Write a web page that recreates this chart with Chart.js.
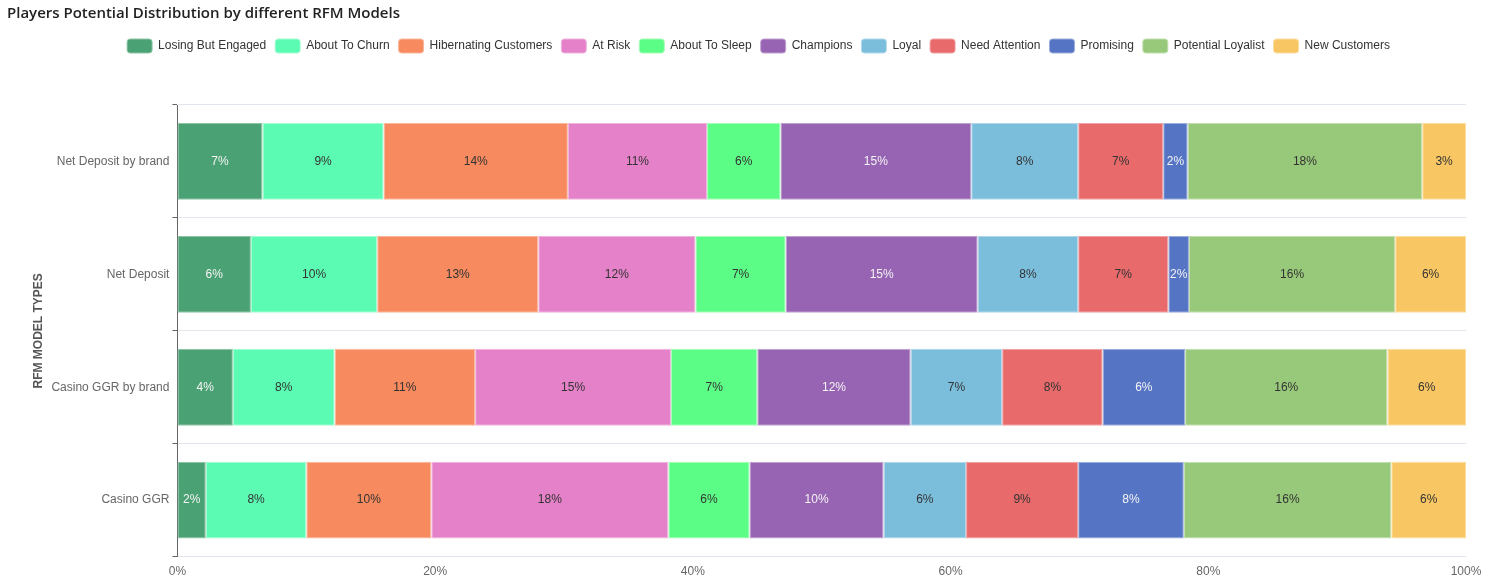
<!DOCTYPE html>
<html>
<head>
<meta charset="utf-8">
<script src="https://cdn.jsdelivr.net/npm/chart.js@4.4.1/dist/chart.umd.min.js"></script>
<style>
  html, body { margin: 0; padding: 0; background: #fff; }
  #wrap { width: 1488px; height: 582px; position: relative; }
</style>
</head>
<body>
<div id="wrap"><canvas id="rfmChart"></canvas></div>
<script>
const models = ["Net Deposit by brand", "Net Deposit", "Casino GGR by brand", "Casino GGR"];

const segments = [
  "Losing But Engaged", "About To Churn", "Hibernating Customers", "At Risk",
  "About To Sleep", "Champions", "Loyal", "Need Attention", "Promising",
  "Potential Loyalist", "New Customers"
];

// share of players (%) per model, one array per segment, in model order
const losingButEngaged = [6.6, 5.7, 4.3, 2.2];
const aboutToChurn = [9.4, 9.8, 7.9, 7.8];
const hibernating = [14.3, 12.5, 10.9, 9.7];
const atRisk = [10.8, 12.2, 15.2, 18.4];
const aboutToSleep = [5.7, 7.0, 6.7, 6.3];
const champions = [14.8, 14.9, 11.9, 10.4];
const loyal = [8.3, 7.8, 7.1, 6.4];
const needAttention = [6.6, 7.0, 7.8, 8.7];
const promising = [1.9, 1.6, 6.4, 8.2];
const potentialLoyalist = [18.2, 16.0, 15.7, 16.1];
const newCustomers = [3.4, 5.5, 6.1, 5.8];

const xTicks = [0, 20, 40, 60, 80, 100];

const seriesValues = [
  losingButEngaged, aboutToChurn, hibernating, atRisk, aboutToSleep,
  champions, loyal, needAttention, promising, potentialLoyalist, newCustomers
];

const colors = [
  "#4aa173", "#5cfbb3", "#f78a5e", "#e581c8", "#5cfd86",
  "#9763b3", "#7bbedc", "#e86a6b", "#5674c4", "#98c97a", "#f8c764"
];
const borders = [
  "#8fc4a6", "#a6fcd3", "#fab79c", "#efb3de", "#a6fdb6",
  "#bea1d0", "#b0d8ea", "#f0a3a4", "#9aaddb", "#c1dfae", "#fbdd9f"
];
const whiteText = ["Losing But Engaged", "Champions", "Promising"];

// simple inline value labels, centred in each segment
const segmentLabels = {
  id: "segmentLabels",
  afterDatasetsDraw(chart) {
    const ctx = chart.ctx;
    ctx.save();
    ctx.font = "12px 'Liberation Sans', Arial, sans-serif";
    ctx.textAlign = "center";
    ctx.textBaseline = "middle";
    chart.data.datasets.forEach((ds, i) => {
      const meta = chart.getDatasetMeta(i);
      if (meta.hidden) return;
      ctx.fillStyle = whiteText.includes(ds.label) ? "#f4f4f4" : "#333";
      meta.data.forEach((bar, j) => {
        const { x, base, y } = bar.getProps(["x", "base", "y"], true);
        ctx.fillText(Math.round(ds.data[j]) + "%", (x + base) / 2, y);
      });
    });
    ctx.restore();
  }
};

// extra room under the legend, title pushed to the far left, legend nudged right
const headerTweaks = {
  id: "headerTweaks",
  beforeInit(chart) {
    const legend = chart.legend;
    const fit = legend.fit;
    legend.fit = function () {
      fit.call(this);
      this.height += 42;
    };
  },
  afterLayout(chart) {
    chart.titleBlock.left = 7;
    chart.legend.left += 10;
    chart.legend.right += 10;
  }
};

function buildDatasets() {
  return segments.map((name, i) => ({
    label: name,
    data: seriesValues[i],
    backgroundColor: colors[i],
    borderColor: borders[i],
    borderWidth: 1,
    borderSkipped: false,
    barPercentage: 0.85,
    categoryPercentage: 0.8
  }));
}

function renderChart() {
  const ctx = document.getElementById("rfmChart").getContext("2d");
  Chart.defaults.font.family = "'Liberation Sans', Arial, sans-serif";

  new Chart(ctx, {
    type: "bar",
    data: { labels: models, datasets: buildDatasets() },
    plugins: [segmentLabels, headerTweaks],
    options: {
      indexAxis: "y",
      responsive: true,
      maintainAspectRatio: false,
      animation: false,
      layout: { padding: { left: 31, right: 22, top: 5, bottom: 3 } },
      plugins: {
        title: {
          display: true,
          text: "Players Potential Distribution by different RFM Models",
          align: "start",
          color: "#222",
          font: { family: "'Open Sans', sans-serif", size: 15, weight: "600" },
          padding: { top: 0, bottom: 7 },
          fullSize: true
        },
        legend: {
          display: true,
          labels: {
            boxWidth: 25,
            boxHeight: 14,
            useBorderRadius: true,
            borderRadius: 3,
            color: "#333",
            padding: 9,
            font: { size: 12 }
          }
        },
        tooltip: { enabled: false }
      },
      scales: {
        x: {
          stacked: true,
          min: 0,
          max: 100,
          afterBuildTicks: axis => { axis.ticks = xTicks.map(v => ({ value: v })); },
          ticks: { color: "#666", font: { size: 12 }, padding: 0, callback: v => v + "%" },
          grid: { display: false },
          border: { display: false }
        },
        y: {
          stacked: true,
          ticks: { color: "#666", font: { size: 12 }, padding: 3 },
          grid: { offset: true, color: "#e0e5ee", tickColor: "#666", tickLength: 5 },
          border: { color: "#666" },
          title: {
            display: true,
            text: "RFM MODEL TYPES",
            color: "#555",
            font: { size: 12, weight: "bold" },
            padding: { top: 0, bottom: 3 }
          }
        }
      }
    }
  });
}

window.addEventListener("DOMContentLoaded", renderChart);
</script>
</body>
</html>
